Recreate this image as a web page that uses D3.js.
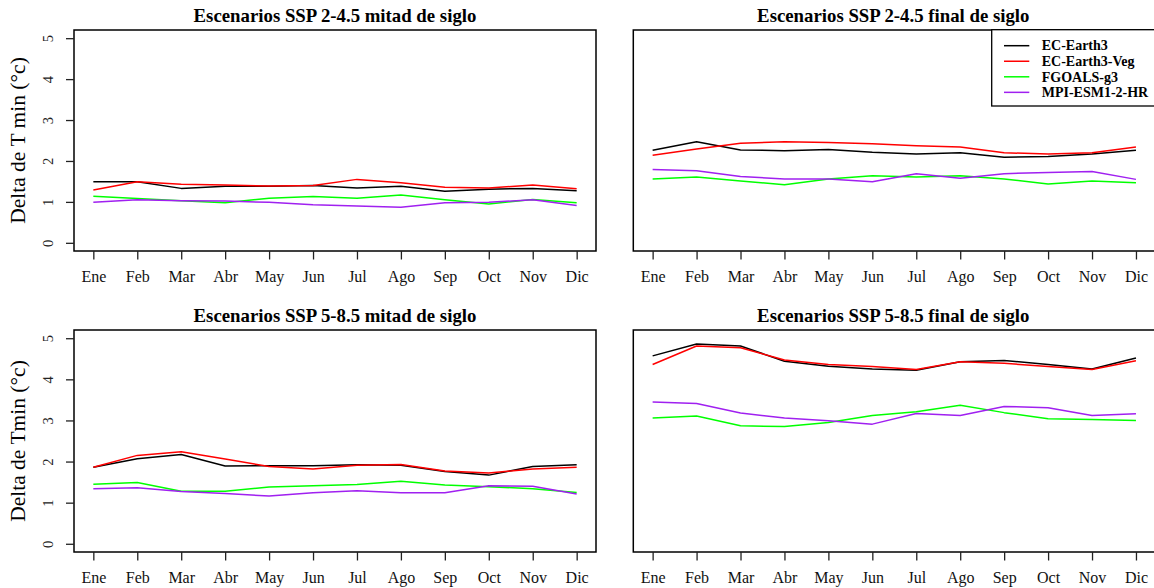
<!DOCTYPE html>
<html>
<head>
<meta charset="utf-8">
<script src="https://cdn.jsdelivr.net/npm/d3@7"></script>
<style>
  html, body { margin: 0; padding: 0; background: #fff; }
  svg { display: block; }
</style>
</head>
<body>
<script>
// ---------------- DATA ----------------
const months = ["Ene","Feb","Mar","Abr","May","Jun","Jul","Ago","Sep","Oct","Nov","Dic"];
const models = ["EC-Earth3","EC-Earth3-Veg","FGOALS-g3","MPI-ESM1-2-HR"];
const modelColors = ["#000000","#FF0000","#00FF00","#A020F0"];
const yTicks = [0,1,2,3,4,5];
const panelTitles = [
  "Escenarios SSP 2-4.5 mitad de siglo",
  "Escenarios SSP 2-4.5 final de siglo",
  "Escenarios SSP 5-8.5 mitad de siglo",
  "Escenarios SSP 5-8.5 final de siglo"
];
const yAxisTitles = ["Delta de T min (°c)", "Delta de Tmin (°c)"];

// SSP 2-4.5 mitad de siglo
const ssp245Mid_ECEarth3    = [1.49,1.49,1.33,1.38,1.38,1.40,1.34,1.38,1.26,1.31,1.33,1.27];
const ssp245Mid_ECEarth3Veg = [1.29,1.49,1.43,1.41,1.39,1.40,1.55,1.47,1.36,1.34,1.41,1.32];
const ssp245Mid_FGOALS      = [1.14,1.08,1.03,0.98,1.09,1.13,1.09,1.17,1.05,0.95,1.06,0.98];
const ssp245Mid_MPI         = [0.99,1.05,1.03,1.02,0.99,0.93,0.90,0.87,0.98,0.99,1.05,0.91];

// SSP 2-4.5 final de siglo
const ssp245End_ECEarth3    = [2.26,2.47,2.27,2.25,2.28,2.21,2.17,2.20,2.09,2.11,2.17,2.26];
const ssp245End_ECEarth3Veg = [2.14,2.29,2.43,2.47,2.45,2.42,2.37,2.34,2.20,2.17,2.20,2.34];
const ssp245End_FGOALS      = [1.56,1.61,1.51,1.42,1.56,1.64,1.61,1.64,1.56,1.44,1.51,1.47];
const ssp245End_MPI         = [1.79,1.76,1.62,1.56,1.56,1.49,1.69,1.58,1.69,1.72,1.74,1.55];

// SSP 5-8.5 mitad de siglo
const ssp585Mid_ECEarth3    = [1.86,2.07,2.17,1.89,1.90,1.90,1.92,1.91,1.76,1.67,1.88,1.92];
const ssp585Mid_ECEarth3Veg = [1.86,2.15,2.24,2.06,1.88,1.82,1.91,1.93,1.77,1.72,1.82,1.86];
const ssp585Mid_FGOALS      = [1.45,1.49,1.28,1.28,1.38,1.41,1.44,1.52,1.43,1.39,1.34,1.25];
const ssp585Mid_MPI         = [1.34,1.36,1.27,1.22,1.16,1.24,1.29,1.24,1.24,1.41,1.40,1.21];

// SSP 5-8.5 final de siglo
const ssp585End_ECEarth3    = [4.57,4.86,4.81,4.44,4.32,4.25,4.22,4.43,4.46,4.36,4.25,4.52];
const ssp585End_ECEarth3Veg = [4.36,4.81,4.77,4.47,4.36,4.31,4.24,4.43,4.39,4.31,4.24,4.45];
const ssp585End_FGOALS      = [3.06,3.11,2.87,2.85,2.95,3.12,3.21,3.37,3.19,3.04,3.02,3.00];
const ssp585End_MPI         = [3.45,3.41,3.18,3.06,2.99,2.91,3.17,3.12,3.34,3.31,3.12,3.16];

const panelSeries = [
  [ssp245Mid_ECEarth3, ssp245Mid_ECEarth3Veg, ssp245Mid_FGOALS, ssp245Mid_MPI],
  [ssp245End_ECEarth3, ssp245End_ECEarth3Veg, ssp245End_FGOALS, ssp245End_MPI],
  [ssp585Mid_ECEarth3, ssp585Mid_ECEarth3Veg, ssp585Mid_FGOALS, ssp585Mid_MPI],
  [ssp585End_ECEarth3, ssp585End_ECEarth3Veg, ssp585End_FGOALS, ssp585End_MPI]
];

// ---------------- LAYOUT ----------------
const W = 1154, H = 588;
const serif = "'Liberation Serif','Times New Roman',Times,serif";
const boxes = [
  {x0: 74,    x1: 596,    y0: 30,  y1: 251, yAxis: true,  legend: false},
  {x0: 633.3, x1: 1155.3, y0: 30,  y1: 251, yAxis: false, legend: true},
  {x0: 74,    x1: 596,    y0: 330, y1: 552, yAxis: true,  legend: false},
  {x0: 633.3, x1: 1155.3, y0: 330, y1: 552, yAxis: false, legend: false}
];

const svg = d3.select("body").append("svg")
  .attr("width", W).attr("height", H)
  .attr("font-family", serif);

boxes.forEach((b, i) => {
  const xs = d3.scaleLinear().domain([1 - 0.44, 12 + 0.44]).range([b.x0, b.x1]);
  const ys = d3.scaleLinear().domain([-0.2, 5.2]).range([b.y1, b.y0]);
  const g = svg.append("g");

  // series lines
  const line = d3.line().x((d, k) => xs(k + 1)).y(d => ys(d));
  panelSeries[i].forEach((vals, s) => {
    g.append("path").datum(vals)
      .attr("d", line)
      .attr("fill", "none")
      .attr("stroke", modelColors[s])
      .attr("stroke-width", 1.5)
      .attr("stroke-linejoin", "round");
  });

  // box
  g.append("rect")
    .attr("x", b.x0).attr("y", b.y0)
    .attr("width", b.x1 - b.x0).attr("height", b.y1 - b.y0)
    .attr("fill", "none").attr("stroke", "#000").attr("stroke-width", 1.5);

  // x axis
  const xAxis = d3.axisBottom(xs)
    .tickValues(d3.range(1, 13))
    .tickFormat(k => months[k - 1])
    .tickSize(8.5).tickPadding(11);
  const xg = g.append("g").attr("transform", `translate(0,${b.y1})`).call(xAxis);
  xg.select(".domain").remove();
  xg.selectAll(".tick line").attr("stroke", "#222").attr("stroke-width", 1.3);
  xg.selectAll(".tick text").attr("font-family", serif).attr("font-size", 16).attr("fill", "#111");

  // y axis
  if (b.yAxis) {
    const yAxis = d3.axisLeft(ys).tickValues(yTicks).tickFormat(d3.format("d")).tickSize(8);
    const yg = g.append("g").attr("transform", `translate(${b.x0},0)`).call(yAxis);
    yg.select(".domain").remove();
    yg.selectAll(".tick line").attr("stroke", "#222").attr("stroke-width", 1.3);
    yg.selectAll(".tick text")
      .attr("font-family", serif).attr("font-size", 14.5).attr("fill", "#222")
      .attr("x", null).attr("dy", null)
      .attr("text-anchor", "middle")
      .attr("transform", `translate(${52.5 - b.x0},0) rotate(-90)`);

    g.append("text")
      .attr("transform", `translate(24.5,${(b.y0 + b.y1) / 2}) rotate(-90)`)
      .attr("text-anchor", "middle")
      .attr("font-size", 21.5)
      .attr("fill", "#000")
      .text(yAxisTitles[i === 0 ? 0 : 1]);
  }

  // title
  g.append("text")
    .attr("x", (b.x0 + Math.min(b.x1, 1153.3)) / 2)
    .attr("y", b.y0 - 8)
    .attr("text-anchor", "middle")
    .attr("font-size", 18.8)
    .attr("font-weight", "bold")
    .text(panelTitles[i]);

  // legend
  if (b.legend) {
    const lx = 991.7, ly = 29.7;
    const lg = g.append("g");
    lg.append("rect")
      .attr("x", lx).attr("y", ly)
      .attr("width", b.x1 - lx).attr("height", 76.3)
      .attr("fill", "#fff").attr("stroke", "#000").attr("stroke-width", 1.3);
    models.forEach((m, s) => {
      const cy = 45.7 + s * 15.55;
      lg.append("line")
        .attr("x1", 1004).attr("x2", 1029.3)
        .attr("y1", cy).attr("y2", cy)
        .attr("stroke", modelColors[s]).attr("stroke-width", 1.5);
      lg.append("text")
        .attr("x", 1041.7).attr("y", cy + 4.7)
        .attr("font-size", 14).attr("font-weight", "bold")
        .text(m);
    });
  }
});
</script>
</body>
</html>
